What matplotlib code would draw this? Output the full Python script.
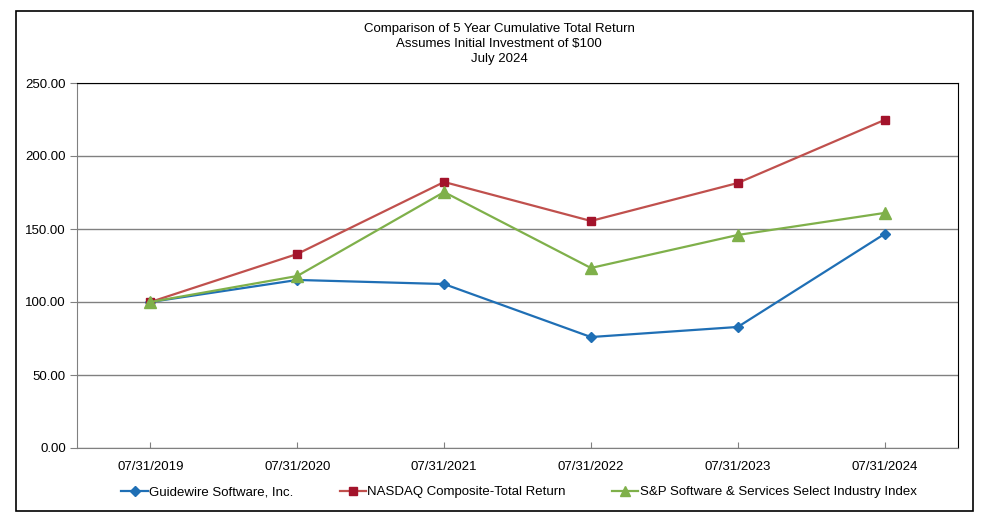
import matplotlib.pyplot as plt
from matplotlib.patches import Rectangle

plt.rcParams["font.family"] = ["Liberation Sans", "DejaVu Sans"]

dates = ["07/31/2019", "07/31/2020", "07/31/2021", "07/31/2022", "07/31/2023", "07/31/2024"]
guidewire = [100.0, 115.1, 112.3, 76.0, 82.9, 146.6]
nasdaq = [100.0, 132.9, 182.2, 155.5, 181.5, 224.7]
sp_software = [100.0, 117.8, 175.3, 123.3, 145.9, 161.0]
y_ticks = [0, 50, 100, 150, 200, 250]

W, H = 998, 526
fig = plt.figure(figsize=(W / 100, H / 100), dpi=100)

# outer frame
fig.patches.append(Rectangle((16 / W, 1 - 511 / H), (973 - 16) / W, (511 - 11) / H,
                             transform=fig.transFigure, fill=False, edgecolor="black", lw=1.2))

ax = fig.add_axes([77 / W, 1 - 448 / H, (958 - 77) / W, (448 - 83) / H])
x = list(range(len(dates)))

ax.plot(x, guidewire, color="#1f6fb5", lw=1.6, marker="D", markersize=5.5,
        label="Guidewire Software, Inc.", zorder=3)
ax.plot(x, nasdaq, color="#c0504d", lw=1.6, marker="s", markersize=6,
        markerfacecolor="#a3132b", markeredgecolor="#a3132b",
        label="NASDAQ Composite-Total Return", zorder=3)
ax.plot(x, sp_software, color="#7fb04a", lw=1.6, marker="^", markersize=8,
        label="S&P Software & Services Select Industry Index", zorder=3)

ax.set_xlim(-0.5, len(dates) - 0.5)
ax.set_ylim(0, 250)
ax.set_yticks(y_ticks)
ax.set_yticklabels([f"{v:.2f}" for v in y_ticks], fontsize=9.5)
ax.set_xticks(x)
ax.set_xticklabels(dates, fontsize=9.5)
ax.tick_params(axis="x", direction="in", length=4, color="#808080", pad=9)
ax.tick_params(axis="y", direction="out", length=5, color="#808080", pad=3)
ax.yaxis.grid(True, color="#808080", lw=1)
ax.set_axisbelow(True)
for side in ("left", "bottom"):
    ax.spines[side].set_color("#808080")
for side in ("top", "right"):
    ax.spines[side].set_color("black")

fig.text(0.5, 1 - 44 / H, "Comparison of 5 Year Cumulative Total Return\nAssumes Initial Investment of $100\nJuly 2024",
         ha="center", va="center", fontsize=9.5, linespacing=1.32)

fig.legend(loc="center", bbox_to_anchor=(0.52, 1 - 492 / H), ncol=3, frameon=False,
           fontsize=9.5, handlelength=2.0, handletextpad=0.1, columnspacing=3.5,
           markerscale=0.9)

fig.savefig("out.png", dpi=100)
